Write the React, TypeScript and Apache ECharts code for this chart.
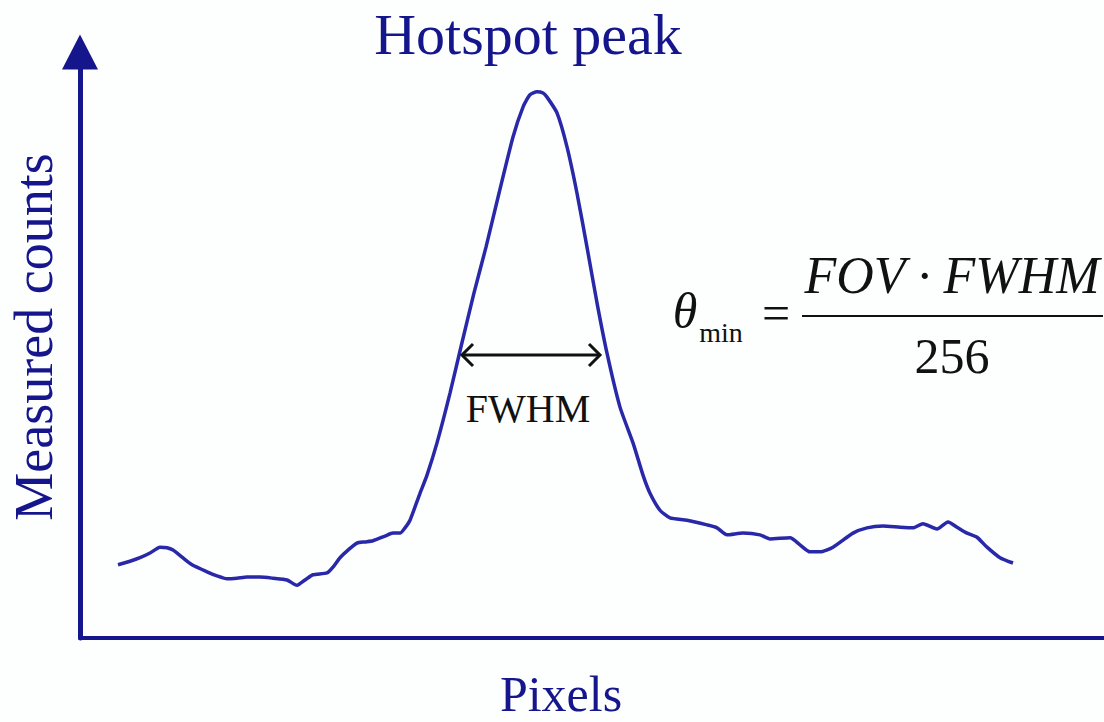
import React, { useEffect, useRef } from "react";
import * as echarts from "echarts";

// Pixel index (0..256 across the x axis) and measured counts (0..100 up the y axis)
const pixelIndex = [
  9.5, 12.5, 15, 17.5, 20, 21.75, 23.25, 25.5, 28, 31.75, 34.25, 36.75, 39.25, 41.75, 45, 48.25,
  51.75, 54.25, 56.25, 58.25, 61.75, 63.25, 65, 67, 69.25, 71.25, 73.25, 76.25, 78.25, 80, 81.25,
  82.5, 85, 86.75, 89.25, 92.5, 95.25, 98.5, 101.5, 104.75, 108.25, 110.75, 112.5, 114.25, 115.75,
  116.75, 119.25, 121.75, 124.25, 126.75, 129.25, 131.75, 135, 138.25, 140.75, 142.5, 145, 147.5,
  151.75, 156.75, 159.25, 161.75, 165.75, 170, 172.5, 177.5, 180, 182.5, 185, 188.25, 193.25,
  196.75, 200.75, 205, 208.25, 210.75, 214.25, 217, 219.25, 221.75, 224.25, 226.75, 230, 233.25,
];
const measuredCounts = [
  12.5, 13.1, 13.7, 14.5, 15.5, 15.4, 15.0, 13.8, 12.5, 11.3, 10.6, 10.1, 10.2, 10.4, 10.4, 10.2,
  9.9, 9.0, 9.9, 10.8, 11.1, 12.1, 13.7, 15.0, 16.2, 16.4, 16.6, 17.4, 17.9, 17.9, 18.8,
  20.1, 24.7, 27.8, 33.3, 41.8, 49.7, 58.9, 66.7, 75.9, 85.5, 90.6, 92.7, 93.2, 93.0,
  92.3, 89.6, 83.8, 75.9, 66.7, 57.2, 48.6, 39.4, 33.3, 27.8, 24.7, 21.8, 20.5,
  20.1, 19.3, 18.8, 17.6, 17.9, 17.6, 16.9, 17.1, 15.9, 14.7, 14.7, 15.5, 17.9,
  18.8, 19.1, 18.9, 18.8, 19.5, 18.6, 19.8, 18.9, 17.9, 17.2, 15.5, 13.7, 12.8,
];
const fwhmEdges = [95.5, 130];
const fwhmLevel = 48.3;

const titleText = "Hotspot peak";
const xAxisTitle = "Pixels";
const yAxisTitle = "Measured counts";
const fwhmLabel = "FWHM";
const formulaSymbol = "θ";
const formulaSubscript = "min";
const formulaNumerator = "FOV · FWHM";
const formulaDenominator = "256";

const NAVY = "#16168c";
const SERIF = "'Liberation Serif', 'Times New Roman', serif";

export default function App() {
  const ref = useRef<HTMLDivElement>(null);

  useEffect(() => {
    const chart = echarts.init(ref.current!, null, { renderer: "svg" });
    chart.setOption({
      animation: false,
      backgroundColor: "#fdfefe",
      grid: { left: 80, right: 0, top: 52, bottom: 84, containLabel: false },
      xAxis: {
        type: "value",
        min: 0,
        max: 256,
        axisLine: { show: true, onZero: false, lineStyle: { color: NAVY, width: 4 } },
        axisTick: { show: false },
        axisLabel: { show: false },
        splitLine: { show: false },
      },
      yAxis: {
        type: "value",
        min: 0,
        max: 100,
        axisLine: {
          show: true,
          onZero: false,
          symbol: ["none", "triangle"],
          symbolSize: [36, 35],
          lineStyle: { color: NAVY, width: 5 },
        },
        axisTick: { show: false },
        axisLabel: { show: false },
        splitLine: { show: false },
      },
      series: [
        {
          type: "line",
          data: pixelIndex.map((x, i) => [x, measuredCounts[i]]),
          showSymbol: false,
          smooth: 0.2,
          lineStyle: { color: "#2828a8", width: 3.5 },
          z: 3,
        },
        {
          type: "line",
          data: fwhmEdges.map((x) => [x, fwhmLevel]),
          showSymbol: false,
          lineStyle: { color: "#111111", width: 3 },
          z: 4,
        },
      ],
    });

    const pL = chart.convertToPixel({ gridIndex: 0 }, [fwhmEdges[0], fwhmLevel]) as number[];
    const pR = chart.convertToPixel({ gridIndex: 0 }, [fwhmEdges[1], fwhmLevel]) as number[];
    const head = 11;
    const midX = (pL[0] + pR[0]) / 2;

    const txt = (
      text: string,
      x: number,
      y: number,
      size: number,
      color: string,
      extra: Record<string, unknown> = {}
    ) => ({
      type: "text",
      x,
      y,
      style: {
        text,
        fill: color,
        font: `${extra.italic ? "italic " : ""}${size}px ${SERIF}`,
        textAlign: "center",
        textVerticalAlign: "middle",
      },
      rotation: (extra.rotation as number) || 0,
      z: 10,
    });

    chart.setOption({
      graphic: [
        txt(titleText, 528, 34, 58, NAVY),
        txt(xAxisTitle, 561, 694, 50, NAVY),
        txt(yAxisTitle, 34, 337, 54, NAVY, { rotation: Math.PI / 2 }),
        txt(fwhmLabel, midX - 3, 408, 40, "#111111"),
        {
          type: "polyline",
          shape: { points: [[pL[0] + head, pL[1] - head], [pL[0], pL[1]], [pL[0] + head, pL[1] + head]] },
          style: { stroke: "#111111", lineWidth: 3, fill: "none" },
          z: 10,
        },
        {
          type: "polyline",
          shape: { points: [[pR[0] - head, pR[1] - head], [pR[0], pR[1]], [pR[0] - head, pR[1] + head]] },
          style: { stroke: "#111111", lineWidth: 3, fill: "none" },
          z: 10,
        },
        txt(formulaSymbol, 685, 311, 50, "#111111", { italic: true }),
        txt(formulaSubscript, 721, 332, 28, "#111111"),
        txt("=", 776, 313, 50, "#111111"),
        {
          type: "line",
          shape: { x1: 802, y1: 316, x2: 1103, y2: 316 },
          style: { stroke: "#111111", lineWidth: 2 },
          z: 10,
        },
        txt(formulaNumerator, 952, 275, 52, "#111111", { italic: true }),
        txt(formulaDenominator, 952, 356, 50, "#111111"),
      ],
    });

    return () => chart.dispose();
  }, []);

  return (
    <div
      ref={ref}
      style={{ position: "absolute", left: 0, top: 0, width: 1104, height: 722 }}
    />
  );
}
